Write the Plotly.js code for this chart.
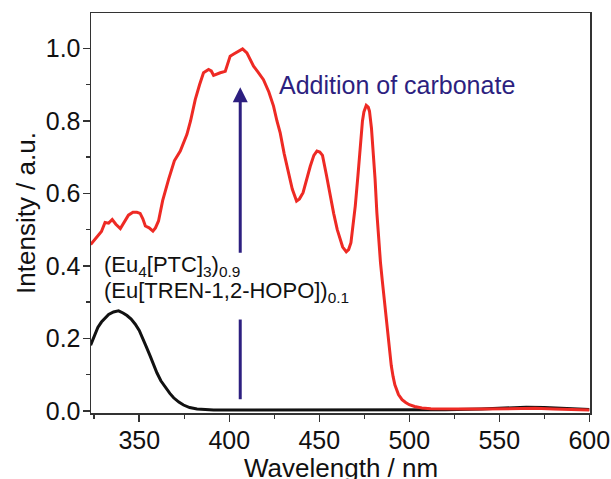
<!DOCTYPE html>
<html>
<head>
<meta charset="utf-8">
<script src="https://cdn.plot.ly/plotly-3.0.1.min.js"></script>
<style>html,body{margin:0;padding:0;background:#fff;}#chart{width:611px;height:479px;}</style>
</head>
<body>
<div id="chart"></div>
<script>
// Red spectrum (after carbonate addition)
const redWavelength = [323, 326, 329, 331, 333, 335, 337, 339.5, 342, 344, 346.5, 348.7, 350.5, 352, 353.4, 355.5, 357.6, 359, 360.7, 363, 366.3, 369.5, 372.8, 376.5, 378.5, 381.1, 383.5, 385.7, 388.5, 390, 391.3, 393, 395, 397.8, 399, 400.5, 402.5, 404.3, 406, 407.4, 409.8, 411.5, 413.5, 416, 419, 422, 424.6, 426.5, 428.3, 430.5, 432.9, 435, 437.4, 439, 441, 443, 445, 447, 448.7, 450.3, 451.8, 454, 456, 458, 460, 461.6, 463, 465, 466.3, 467.6, 469, 470, 471.5, 472.7, 474, 474.8, 476.1, 477.2, 477.9, 479, 479.8, 481, 482, 483, 484, 485, 486, 487, 488, 489, 490, 491, 492, 494, 496, 498, 500, 503, 507, 512, 520, 530, 540, 550, 560, 570, 580, 590, 600];
const redIntensity = [0.459, 0.478, 0.495, 0.520, 0.518, 0.528, 0.515, 0.503, 0.522, 0.540, 0.548, 0.548, 0.545, 0.530, 0.510, 0.505, 0.496, 0.505, 0.524, 0.580, 0.639, 0.690, 0.717, 0.763, 0.800, 0.859, 0.900, 0.933, 0.942, 0.938, 0.926, 0.930, 0.933, 0.937, 0.955, 0.979, 0.985, 0.990, 0.997, 0.999, 0.988, 0.972, 0.951, 0.935, 0.914, 0.880, 0.841, 0.800, 0.767, 0.710, 0.657, 0.612, 0.579, 0.585, 0.602, 0.640, 0.675, 0.705, 0.717, 0.714, 0.705, 0.650, 0.595, 0.545, 0.500, 0.473, 0.452, 0.439, 0.445, 0.464, 0.520, 0.565, 0.650, 0.730, 0.800, 0.825, 0.843, 0.838, 0.827, 0.780, 0.730, 0.640, 0.547, 0.470, 0.410, 0.360, 0.310, 0.260, 0.210, 0.165, 0.125, 0.095, 0.072, 0.045, 0.031, 0.023, 0.017, 0.012, 0.008, 0.006, 0.005, 0.005, 0.005, 0.006, 0.007, 0.007, 0.005, 0.003, 0.002];

// Black spectrum (before addition)
const blackWavelength = [323, 325, 327, 329, 331, 333, 335.7, 338.5, 341, 343.2, 345.5, 347.8, 350, 352.4, 354, 356.1, 358, 359.8, 362, 364.5, 367, 369.1, 372, 374.6, 378, 382.1, 386, 391.3, 400, 420, 450, 480, 500, 520, 540, 555, 565, 575, 585, 595, 600];
const blackIntensity = [0.181, 0.205, 0.230, 0.245, 0.257, 0.266, 0.273, 0.276, 0.270, 0.263, 0.253, 0.239, 0.222, 0.197, 0.176, 0.151, 0.127, 0.105, 0.083, 0.064, 0.048, 0.036, 0.024, 0.016, 0.009, 0.005, 0.003, 0.002, 0.002, 0.002, 0.002, 0.002, 0.002, 0.003, 0.005, 0.008, 0.010, 0.009, 0.007, 0.005, 0.004];

const xTickValues = [350, 400, 450, 500, 550, 600];
const yTickValues = [0.0, 0.2, 0.4, 0.6, 0.8, 1.0];
const xTitle = 'Wavelength / nm';
const yTitle = 'Intensity / a.u.';
const labelLine1 = '(Eu<sub>4</sub>[PTC]<sub>3</sub>)<sub>0.9</sub>';
const labelLine2 = '(Eu[TREN-1,2-HOPO])<sub>0.1</sub>';
const arrowText = 'Addition of carbonate';

const FONT = 'Liberation Sans, Arial, Helvetica, sans-serif';
const NAVY = '#2d1f80';

const traces = [
  {x: blackWavelength, y: blackIntensity, type: 'scatter', mode: 'lines',
   line: {color: '#111111', width: 3}, hoverinfo: 'skip'},
  {x: redWavelength, y: redIntensity, type: 'scatter', mode: 'lines',
   line: {color: '#ee2a24', width: 3}, hoverinfo: 'skip'}
];

const layout = {
  width: 611, height: 479,
  margin: {l: 91, r: 21, t: 13, b: 66, pad: 0},
  paper_bgcolor: '#ffffff', plot_bgcolor: '#ffffff',
  showlegend: false,
  font: {family: FONT, color: '#111111', size: 25},
  xaxis: {
    range: [323.2, 600.4], tickvals: xTickValues, ticktext: xTickValues.map(String),
    ticks: 'outside', ticklen: 7, tickwidth: 1.5, tickcolor: '#333',
    minor: {dtick: 25, tick0: 325, ticks: 'outside', ticklen: 4, tickwidth: 1.5, tickcolor: '#333'},
    showline: true, linecolor: '#333', linewidth: 1.5, mirror: true,
    showgrid: false, zeroline: false,
    ticklabelstandoff: -3,
    tickfont: {family: FONT, size: 25, color: '#111'},
    automargin: false
  },
  yaxis: {
    range: [-0.006, 1.098], tickvals: yTickValues, ticktext: yTickValues.map(v => v.toFixed(1)),
    ticks: 'outside', ticklen: 7, tickwidth: 1.5, tickcolor: '#333',
    minor: {dtick: 0.1, tick0: 0.1, ticks: 'outside', ticklen: 4, tickwidth: 1.5, tickcolor: '#333'},
    showline: true, linecolor: '#333', linewidth: 1.5, mirror: true,
    showgrid: false, zeroline: false,
    ticklabelstandoff: -3,
    tickfont: {family: FONT, size: 25, color: '#111'},
    title: {text: yTitle, font: {family: FONT, size: 26, color: '#111'}, standoff: 2},
    automargin: false
  },
  shapes: [
    {type: 'line', xref: 'x', yref: 'y', x0: 406.1, x1: 406.1, y0: 0.032, y1: 0.252,
     line: {color: NAVY, width: 3}}
  ],
  annotations: [
    {x: 0.5, y: -0.1375, xref: 'paper', yref: 'paper', xanchor: 'center', yanchor: 'middle',
     text: xTitle, showarrow: false, font: {family: FONT, size: 26, color: '#111'}},
    {x: 406.1, y: 0.893, ax: 406.1, ay: 0.432, xref: 'x', yref: 'y', axref: 'x', ayref: 'y',
     text: '', showarrow: true, arrowhead: 2, arrowsize: 1, arrowwidth: 3, arrowcolor: NAVY, standoff: 0},
    {x: 426.6, y: 0.898, xref: 'x', yref: 'y', xanchor: 'left', yanchor: 'middle',
     text: arrowText, showarrow: false, font: {family: FONT, size: 25, color: NAVY}},
    {x: 329.3, y: 0.399, xref: 'x', yref: 'y', xanchor: 'left', yanchor: 'middle',
     text: labelLine1, showarrow: false, font: {family: FONT, size: 22, color: '#111'}},
    {x: 329.3, y: 0.328, xref: 'x', yref: 'y', xanchor: 'left', yanchor: 'middle',
     text: labelLine2, showarrow: false, font: {family: FONT, size: 22, color: '#111'}}
  ]
};

Plotly.newPlot('chart', traces, layout, {staticPlot: true, displayModeBar: false});
</script>
</body>
</html>
